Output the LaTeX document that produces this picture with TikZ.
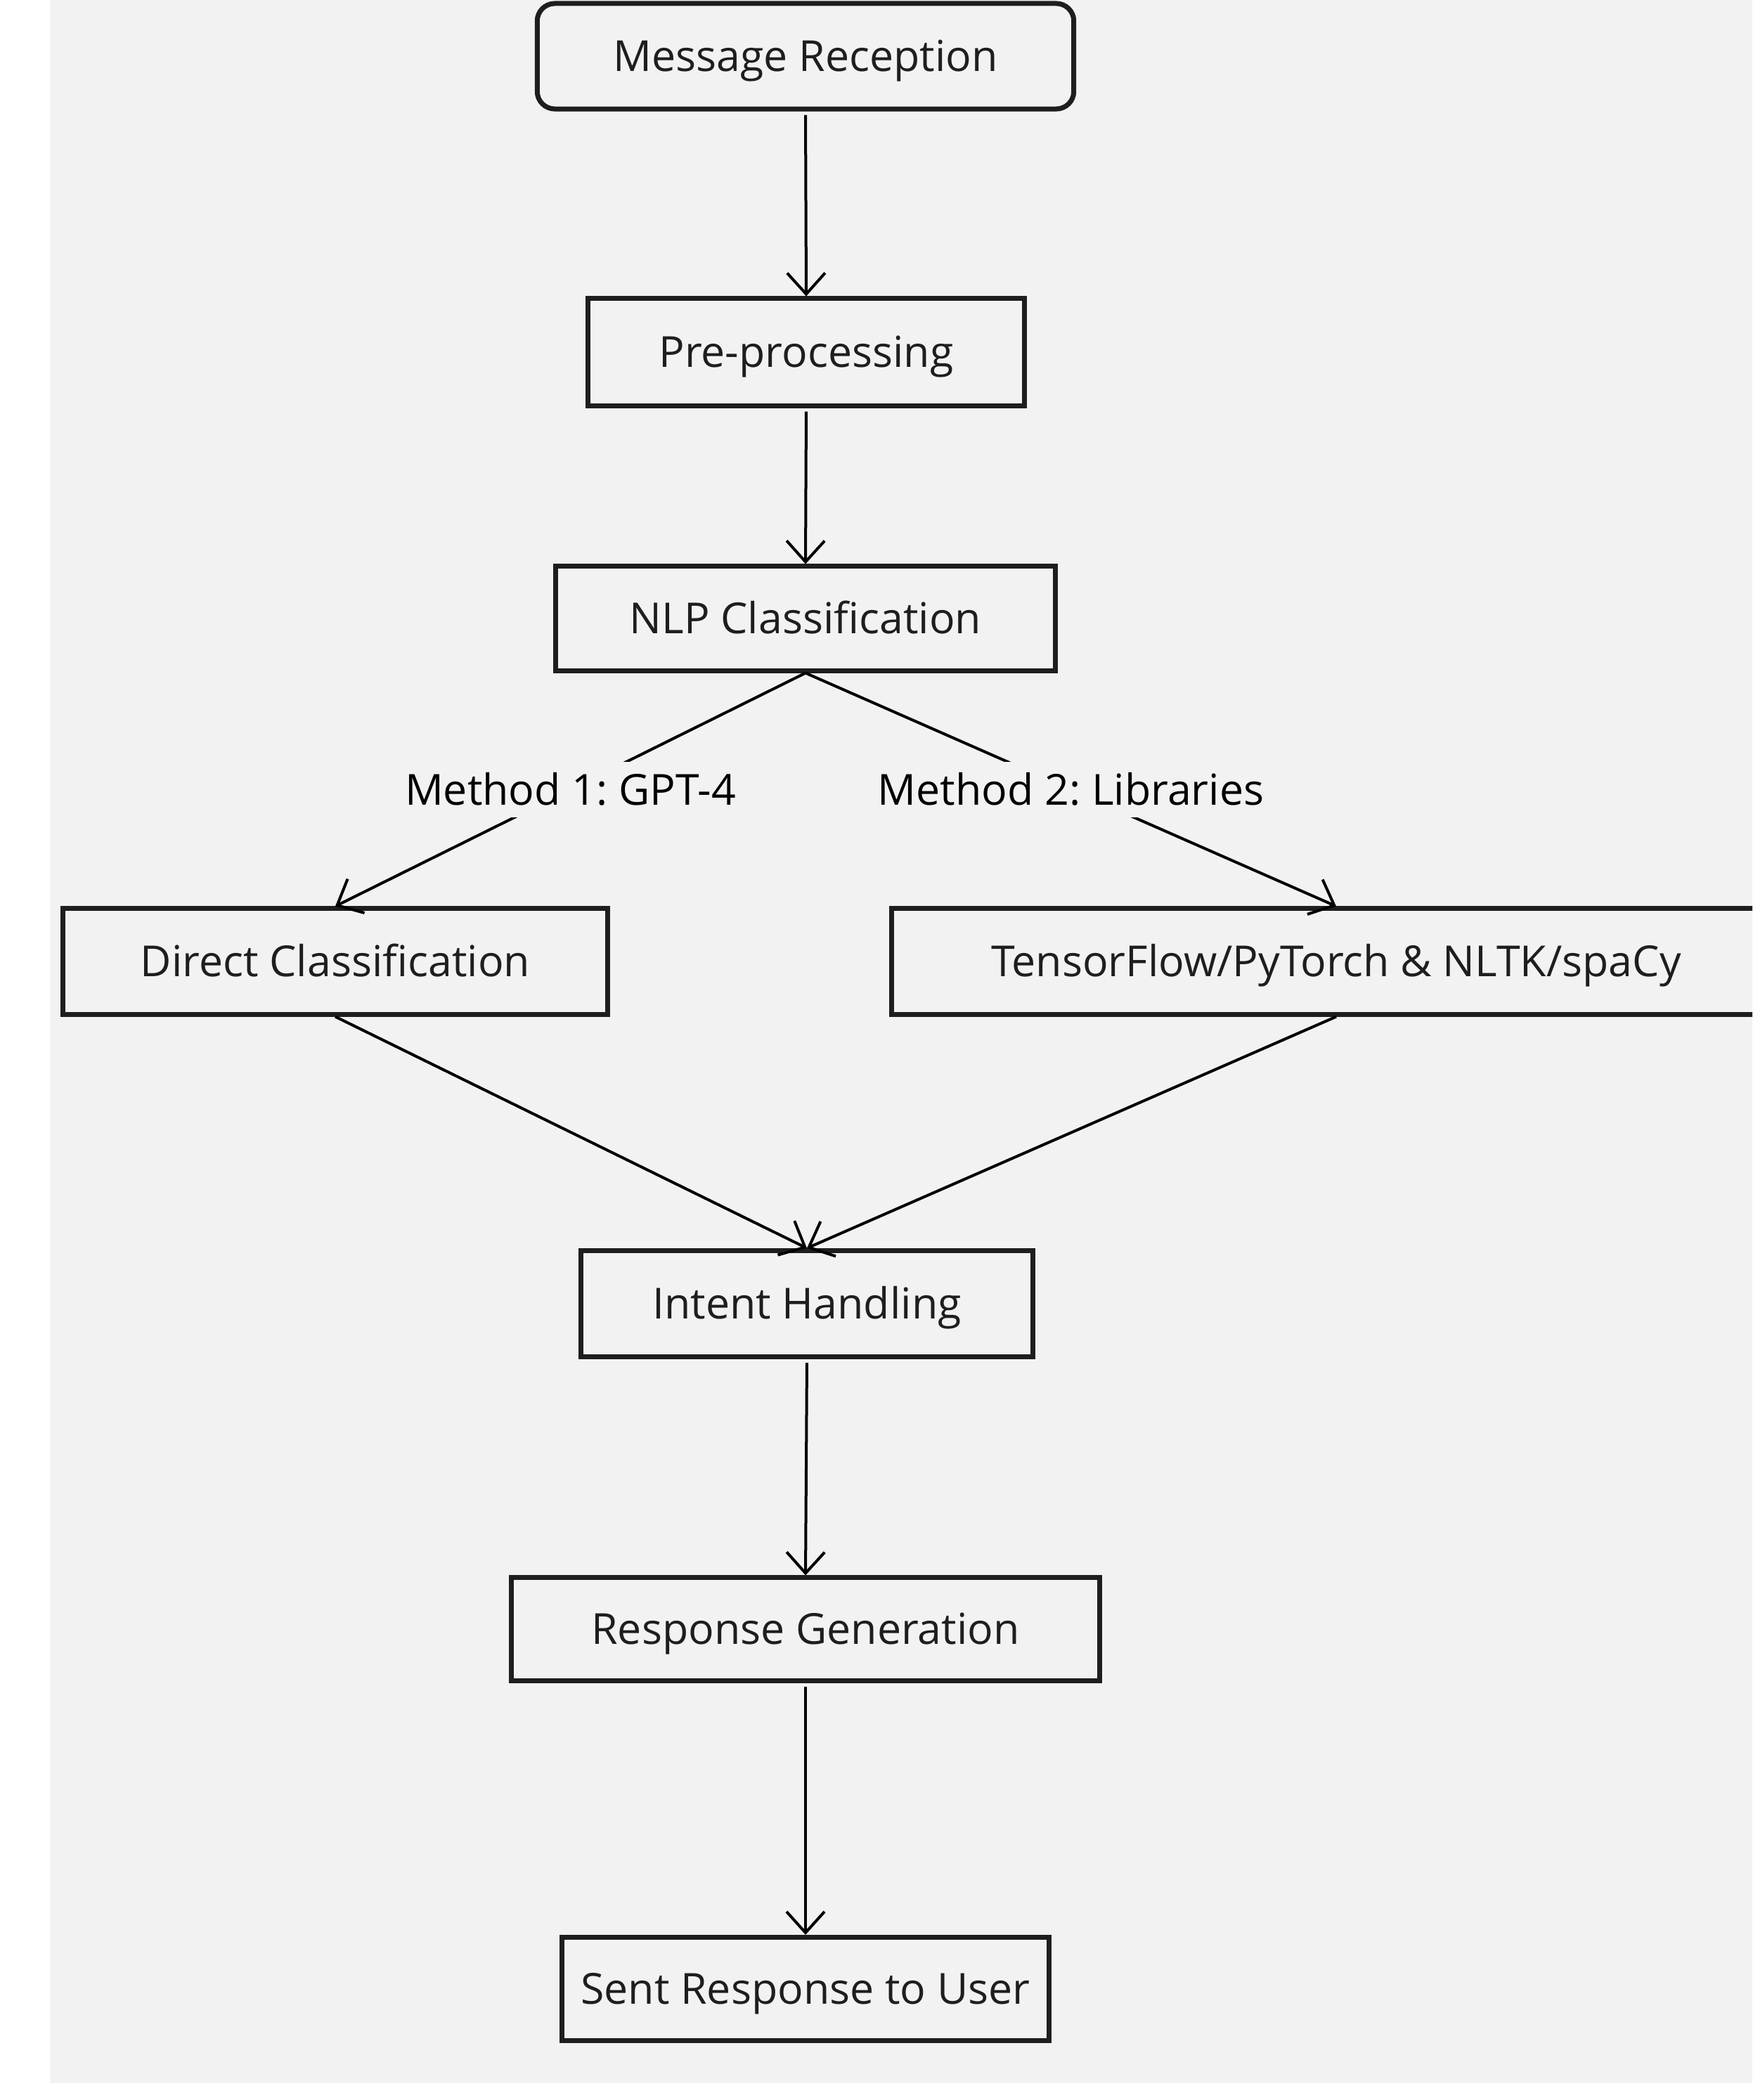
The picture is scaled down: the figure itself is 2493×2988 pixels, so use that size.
\documentclass[tikz,border=0pt]{standalone}
\usepackage{fontspec}
\setmainfont{Open Sans}
\usetikzlibrary{arrows.meta}
\definecolor{bgcol}{HTML}{F2F2F2}
\definecolor{ink}{HTML}{1E1E1E}
\frenchspacing
\begin{document}
\begin{tikzpicture}[x=0.01cm,y=-0.01cm,
  box/.style={draw=ink, line width=0.07cm, fill=bgcol, inner sep=0pt, text=ink,
    font=\fontsize{17.3}{20}\selectfont, text height=0.43cm, text depth=0cm},
  conn/.style={draw=black, line width=0.04cm, -{Straight Barb[length=0.30cm,width=0.54cm]}},
  lbl/.style={fill=bgcol, text=black, font=\fontsize{17.3}{20}\selectfont,
    text height=0.43cm, text depth=0cm, inner ysep=0.18cm, inner xsep=0.1cm}]
\useasboundingbox (0,0) rectangle (2493,2988);
\clip (0,0) rectangle (2493,2988);
\fill[bgcol] (71,0) rectangle (2493,2964);

\node[box, rounded corners=0.25cm, minimum width=7.63cm, minimum height=1.50cm] (msg) at (1146,80) {Message Reception};
\node[box, minimum width=6.20cm, minimum height=1.52cm] (pre) at (1147,501) {Pre-processing};
\node[box, minimum width=7.10cm, minimum height=1.48cm] (nlp) at (1146,880) {NLP Classification};
\node[box, minimum width=7.74cm, minimum height=1.50cm] (direct) at (477,1368) {Direct Classification};
\node[box, minimum width=12.65cm, minimum height=1.50cm] (tf) at (1901,1368) {TensorFlow/PyTorch \& NLTK/spaCy};
\node[box, minimum width=6.43cm, minimum height=1.51cm] (intent) at (1148,1855) {Intent Handling};
\node[box, minimum width=8.36cm, minimum height=1.46cm] (resp) at (1146,2318) {Response Generation};
\node[box, minimum width=6.92cm, minimum height=1.47cm] (sent) at (1146,2830) {Sent Response to User};

\draw[conn, shorten <=0.05cm] (msg.south) -- (pre.north);
\draw[conn, shorten <=0.05cm] (pre.south) -- (nlp.north);
\draw[conn] (nlp.south) -- node[lbl] {Method 1: GPT-4} (direct.north);
\draw[conn] (nlp.south) -- node[lbl] {Method 2: Libraries} (tf.north);
\draw[conn] (direct.south) -- (intent.north);
\draw[conn] (tf.south) -- (intent.north);
\draw[conn, shorten <=0.05cm] (intent.south) -- (resp.north);
\draw[conn, shorten <=0.05cm] (resp.south) -- (sent.north);
\end{tikzpicture}
\end{document}
